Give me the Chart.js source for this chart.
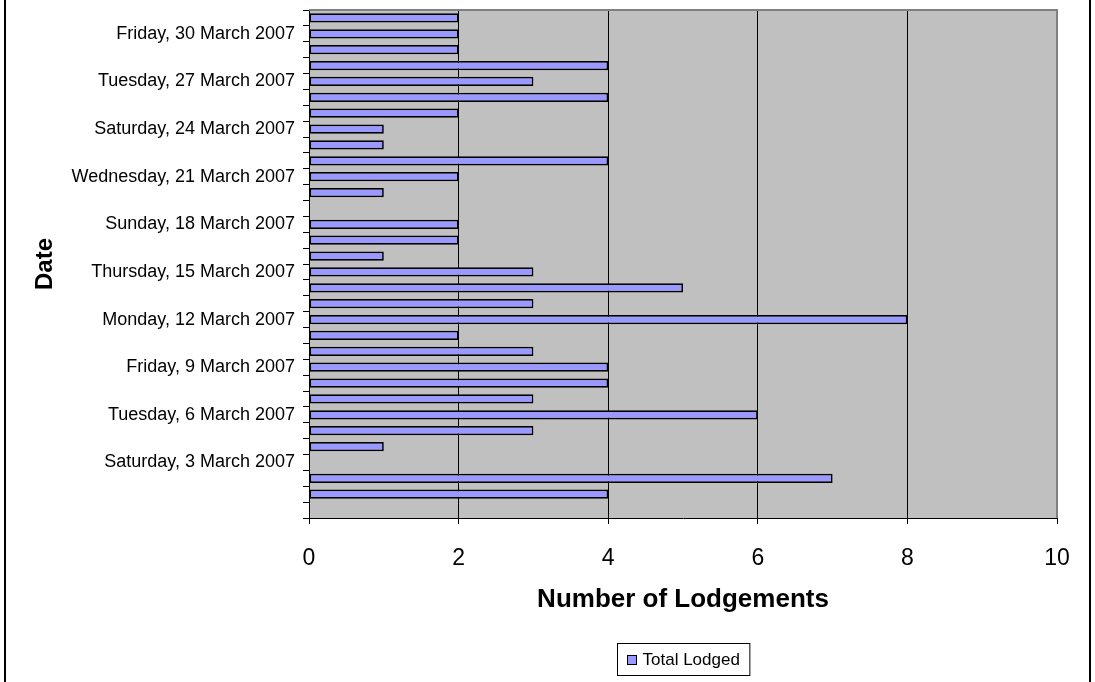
<!DOCTYPE html>
<html>
<head>
<meta charset="utf-8">
<title>Total Lodged</title>
<script src="https://cdn.jsdelivr.net/npm/chart.js@4.4.1/dist/chart.umd.min.js"></script>
<style>
  html, body { margin: 0; padding: 0; background: #ffffff; }
  #wrap { width: 1095px; height: 682px; }
</style>
</head>
<body>
<div id="wrap"><canvas id="c" width="1095" height="682"></canvas></div>
<script>
// Daily lodgement counts, 28 February to 31 March 2007
const dates = [
  "Wednesday, 28 February 2007",
  "Thursday, 1 March 2007",
  "Friday, 2 March 2007",
  "Saturday, 3 March 2007",
  "Sunday, 4 March 2007",
  "Monday, 5 March 2007",
  "Tuesday, 6 March 2007",
  "Wednesday, 7 March 2007",
  "Thursday, 8 March 2007",
  "Friday, 9 March 2007",
  "Saturday, 10 March 2007",
  "Sunday, 11 March 2007",
  "Monday, 12 March 2007",
  "Tuesday, 13 March 2007",
  "Wednesday, 14 March 2007",
  "Thursday, 15 March 2007",
  "Friday, 16 March 2007",
  "Saturday, 17 March 2007",
  "Sunday, 18 March 2007",
  "Monday, 19 March 2007",
  "Tuesday, 20 March 2007",
  "Wednesday, 21 March 2007",
  "Thursday, 22 March 2007",
  "Friday, 23 March 2007",
  "Saturday, 24 March 2007",
  "Sunday, 25 March 2007",
  "Monday, 26 March 2007",
  "Tuesday, 27 March 2007",
  "Wednesday, 28 March 2007",
  "Thursday, 29 March 2007",
  "Friday, 30 March 2007",
  "Saturday, 31 March 2007"
];

const totalLodged = [
  0, 4, 7, 0, 1, 3, 6, 3, 4, 4, 3, 2, 8, 3, 5, 3,
  1, 2, 2, 0, 1, 2, 4, 1, 1, 2, 4, 3, 4, 2, 2, 2
];

const seriesName = "Total Lodged";
const xTicks = [0, 2, 4, 6, 8, 10];
const xTitle = "Number of Lodgements";
const yTitle = "Date";

const FONT = "'Liberation Sans', Arial, Helvetica, sans-serif";
const BAR_FILL = "#9999FF";
const PLOT_FILL = "#C0C0C0";

// White page, outer frame and grey plot background
const backdrop = {
  id: "backdrop",
  beforeDraw(chart) {
    const { ctx, chartArea: a } = chart;
    ctx.save();
    ctx.fillStyle = "#ffffff";
    ctx.fillRect(0, 0, chart.width, chart.height);
    ctx.fillStyle = PLOT_FILL;
    ctx.fillRect(a.left, a.top, a.right - a.left, a.bottom - a.top);
    ctx.strokeStyle = "#000000";
    ctx.lineWidth = 2;
    ctx.beginPath();
    ctx.moveTo(5, 0); ctx.lineTo(5, chart.height);
    ctx.moveTo(1090, 0); ctx.lineTo(1090, chart.height);
    ctx.stroke();
    ctx.restore();
  },
  afterDraw(chart) {
    const { ctx, chartArea: a } = chart;
    ctx.save();
    // plot border, top and right
    ctx.strokeStyle = "#808080";
    ctx.lineWidth = 2;
    ctx.beginPath();
    ctx.moveTo(a.left, a.top);
    ctx.lineTo(a.right, a.top);
    ctx.lineTo(a.right, a.bottom);
    ctx.stroke();

    // legend box
    ctx.font = "17px " + FONT;
    const tw = ctx.measureText(seriesName).width;
    const sq = 9, gap = 6, padL = 10, padR = 10;
    const w = padL + sq + gap + tw + padR;
    const h = 32;
    const cx = (a.left + a.right) / 2;
    const x0 = Math.round(cx - w / 2) + 0.5;
    const y0 = 643.5;
    ctx.fillStyle = "#ffffff";
    ctx.fillRect(x0, y0, w, h);
    ctx.strokeStyle = "#000000";
    ctx.lineWidth = 1;
    ctx.strokeRect(x0, y0, w, h);
    const sy = Math.round(y0 + h / 2 - sq / 2) + 0.5;
    const sx = x0 + padL;
    ctx.fillStyle = BAR_FILL;
    ctx.fillRect(sx, sy, sq, sq);
    ctx.strokeRect(sx, sy, sq, sq);
    ctx.fillStyle = "#000000";
    ctx.textBaseline = "middle";
    ctx.textAlign = "left";
    ctx.fillText(seriesName, sx + sq + gap, y0 + h / 2 + 1);
    ctx.restore();
  }
};

new Chart(document.getElementById("c"), {
  type: "bar",
  data: {
    labels: dates,
    datasets: [{
      label: seriesName,
      data: totalLodged,
      backgroundColor: BAR_FILL,
      borderColor: "#000000",
      borderWidth: 1.7,
      borderSkipped: false,
      categoryPercentage: 1.0,
      barPercentage: 0.58
    }]
  },
  options: {
    indexAxis: "y",
    responsive: false,
    animation: false,
    devicePixelRatio: 1,
    layout: { padding: { left: 0, right: 38, top: 10, bottom: 0 } },
    plugins: {
      legend: { display: false },
      tooltip: { enabled: false }
    },
    scales: {
      x: {
        type: "linear",
        min: xTicks[0],
        max: xTicks[xTicks.length - 1],
        afterBuildTicks(scale) { scale.ticks = xTicks.map(v => ({ value: v })); },
        afterFit(scale) {
          scale.height = 164;
          scale.paddingLeft = 0;
          scale.paddingRight = 0;
        },
        ticks: {
          color: "#000000",
          font: { family: FONT, size: 23 },
          padding: 21,
          maxRotation: 0
        },
        grid: {
          color: ctx => (ctx.tick && ctx.tick.value === 10) ? "#808080" : "#000000",
          tickColor: "#000000",
          lineWidth: 1,
          tickLength: 6,
          drawOnChartArea: true,
          drawTicks: true
        },
        border: { display: true, color: "#000000", width: 1 },
        title: {
          display: true,
          text: xTitle,
          color: "#000000",
          font: { family: FONT, size: 26, weight: "bold" },
          padding: { top: 0, bottom: 66.4 }
        }
      },
      y: {
        type: "category",
        reverse: true,
        offset: true,
        afterFit(scale) {
          scale.width = 309;
          scale.paddingTop = 0;
          scale.paddingBottom = 0;
        },
        ticks: {
          autoSkip: false,
          color: "#000000",
          font: { family: FONT, size: 18 },
          padding: 8,
          callback(value, index) {
            return (index > 0 && index % 3 === 0) ? this.getLabelForValue(value) : "";
          }
        },
        grid: {
          offset: true,
          drawOnChartArea: false,
          drawTicks: true,
          tickLength: 6,
          tickColor: "#000000",
          color: "#000000"
        },
        border: { display: true, color: "#000000", width: 1 },
        title: {
          display: true,
          text: yTitle,
          color: "#000000",
          font: { family: FONT, size: 24, weight: "bold" },
          padding: { top: 30.6, bottom: 0 }
        }
      }
    }
  },
  plugins: [backdrop]
});
</script>
</body>
</html>
